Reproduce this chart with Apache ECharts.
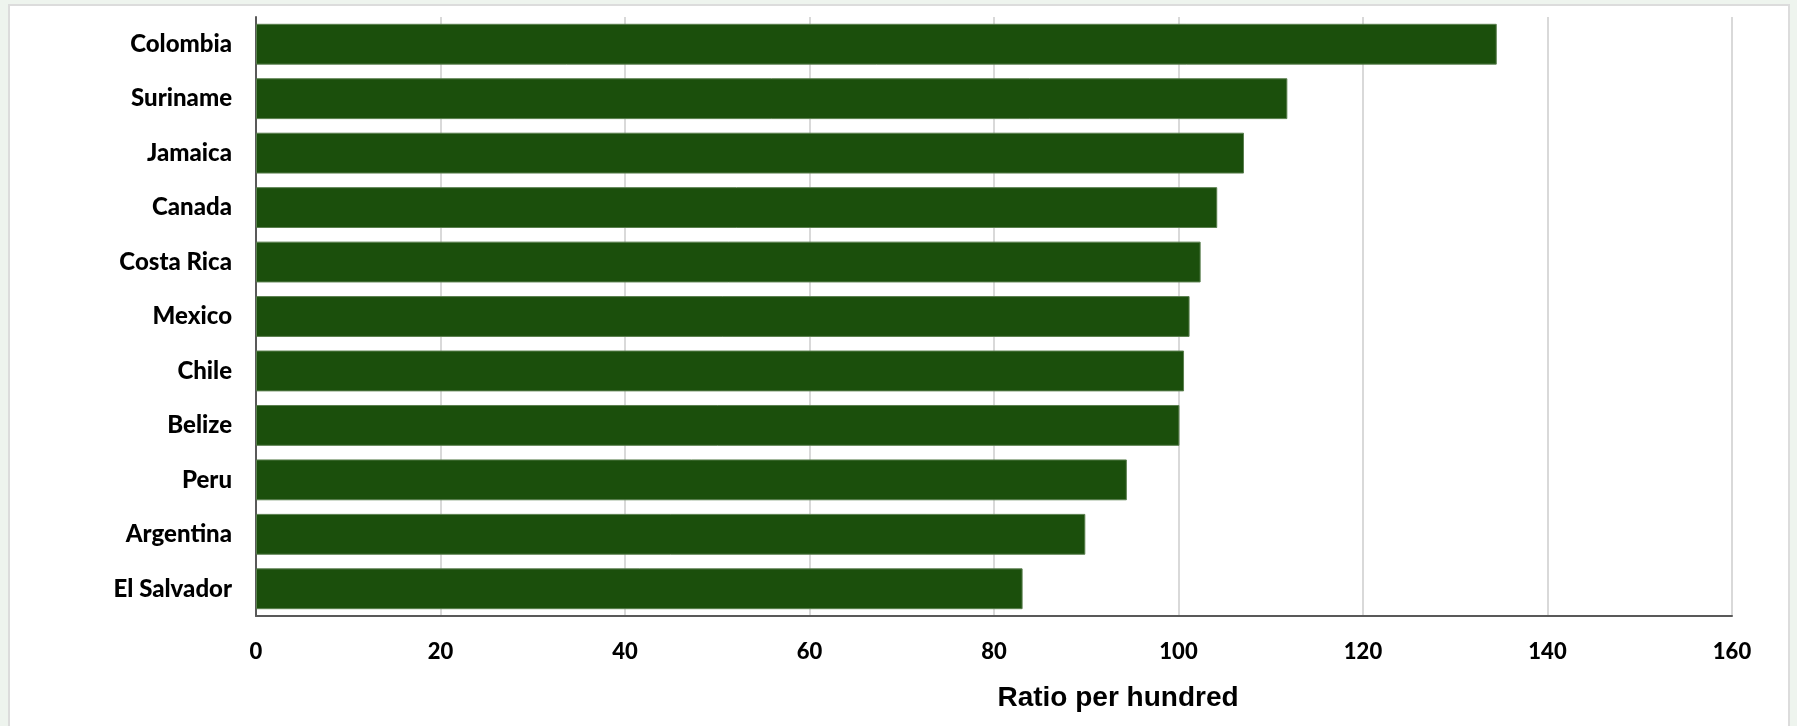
<!DOCTYPE html>
<html>
<head>
<meta charset="utf-8">
<script src="https://cdn.jsdelivr.net/npm/echarts@6/dist/echarts.min.js"></script>
<style>
  html, body { margin: 0; padding: 0; width: 1797px; height: 726px; overflow: hidden; background: #eef4ee; }
  #frame { position: absolute; left: 8px; top: 4px; width: 1782px; height: 740px; background: #ffffff; border: 2px solid #dcdcdc; box-sizing: border-box; }
  #chart { position: absolute; left: 0; top: 0; width: 1797px; height: 726px; }
</style>
</head>
<body>
<div id="frame"></div>
<div id="chart"></div>
<script>
const categories = ["Colombia", "Suriname", "Jamaica", "Canada", "Costa Rica", "Mexico", "Chile", "Belize", "Peru", "Argentina", "El Salvador"];
const values = [134.5, 111.8, 107.1, 104.2, 102.4, 101.2, 100.6, 100.1, 94.4, 89.9, 83.1];
const xTicks = { min: 0, max: 160, interval: 20 };
const axisTitle = "Ratio per hundred";

const chart = echarts.init(document.getElementById('chart'), null, { renderer: 'canvas' });
chart.setOption({
  backgroundColor: 'transparent',
  animation: false,
  grid: { left: 256, right: 65, top: 17, bottom: 110, containLabel: false },
  xAxis: {
    type: 'value',
    min: xTicks.min, max: xTicks.max, interval: xTicks.interval,
    axisLine: { show: true, lineStyle: { color: '#595959', width: 2 } },
    axisTick: { show: false },
    splitLine: { show: true, lineStyle: { color: '#d9d9d9', width: 2 } },
    axisLabel: { margin: 25, color: '#000', fontFamily: 'Lato', fontWeight: 900, fontSize: 22 },
    name: axisTitle,
    nameLocation: 'middle',
    nameGap: 68,
    nameTextStyle: { color: '#000', fontFamily: 'Liberation Sans', fontWeight: 'bold', fontSize: 28, padding: [0, 0, 0, 248] }
  },
  yAxis: {
    type: 'category',
    data: categories,
    inverse: true,
    axisLine: { show: true, lineStyle: { color: '#595959', width: 2 } },
    axisTick: { show: false },
    splitLine: { show: false },
    axisLabel: { margin: 24, color: '#000', fontFamily: 'Lato', fontWeight: 900, fontSize: 24 }
  },
  series: [{
    type: 'bar',
    data: values,
    barCategoryGap: '25%',
    itemStyle: { color: '#1b4f0c', borderColor: '#5a7f4e', borderWidth: 1 },
    emphasis: { disabled: true }
  }]
});
</script>
</body>
</html>
